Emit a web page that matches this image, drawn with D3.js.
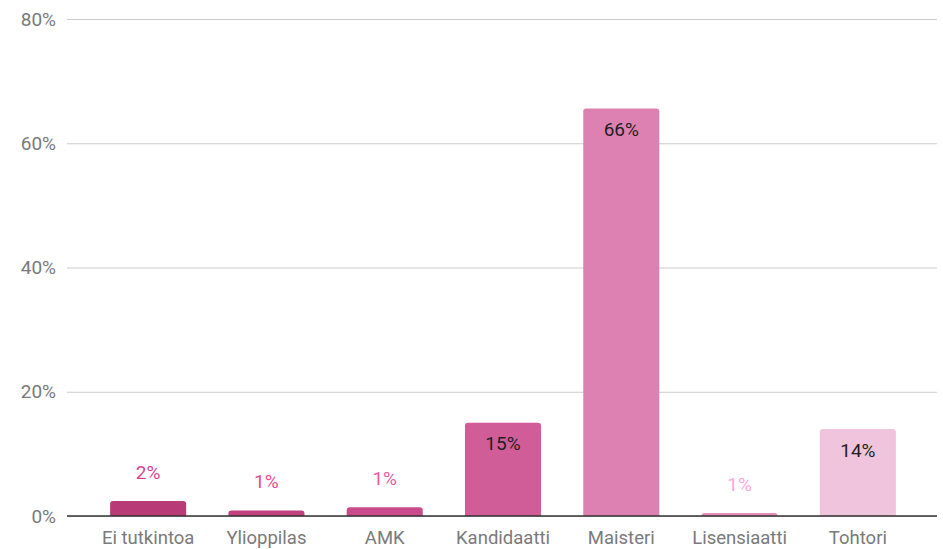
<!DOCTYPE html>
<html>
<head>
<meta charset="utf-8">
<script src="https://cdn.jsdelivr.net/npm/d3@7"></script>
<style>
body { margin: 0; background: #fff; }
text { font-family: Roboto, "Noto Sans", sans-serif; }
</style>
</head>
<body>
<svg id="chart" width="943" height="549"></svg>
<script>
// data
var categories = ["Ei tutkintoa", "Ylioppilas", "AMK", "Kandidaatti", "Maisteri", "Lisensiaatti", "Tohtori"];
var values = [2.4, 0.9, 1.4, 15.0, 65.6, 0.5, 14.0];
var yTicks = [0, 20, 40, 60, 80];

var barColors = ["#b83b78", "#c2417f", "#c94b8b", "#d05c98", "#dc81b1", "#e38dbb", "#efc4dc"];

var svg = d3.select("#chart");
var plotLeft = 67, plotRight = 937, plotTop = 19, plotBottom = 516;

var x = d3.scaleBand()
	.domain(categories)
	.range([89, 917])
	.paddingInner(0.357)
	.paddingOuter(0.357 / 2);

var y = d3.scaleLinear()
	.domain([0, 80])
	.range([plotBottom, plotTop]);

// grid
svg.append("g")
	.selectAll("line")
	.data(yTicks)
	.enter().append("line")
	.attr("x1", plotLeft)
	.attr("x2", plotRight)
	.attr("y1", function (d) { return y(d) + 0.5; })
	.attr("y2", function (d) { return y(d) + 0.5; })
	.attr("stroke", "#cccccc")
	.attr("stroke-width", 1);

// y axis labels
var yAxis = d3.axisLeft(y)
	.tickValues(yTicks)
	.tickSize(0)
	.tickPadding(0)
	.tickFormat(function (d) { return d + "%"; });
var gy = svg.append("g")
	.attr("transform", "translate(56,0)")
	.call(yAxis);
gy.select(".domain").remove();
gy.selectAll("text")
	.attr("fill", "#7a7a7a")
	.style("font-size", "19px");

// bars with rounded tops
function barPath(x0, w, y0, y1, r) {
	var h = y1 - y0;
	r = Math.min(r, h, w / 2);
	return "M" + x0 + "," + y1 +
		"V" + (y0 + r) +
		"Q" + x0 + "," + y0 + " " + (x0 + r) + "," + y0 +
		"H" + (x0 + w - r) +
		"Q" + (x0 + w) + "," + y0 + " " + (x0 + w) + "," + (y0 + r) +
		"V" + y1 + "Z";
}

svg.append("g")
	.selectAll("path")
	.data(values)
	.enter().append("path")
	.attr("d", function (d, i) {
		return barPath(x(categories[i]), x.bandwidth(), y(d), plotBottom, 3);
	})
	.attr("fill", function (d, i) { return barColors[i]; });

// baseline
svg.append("line")
	.attr("x1", plotLeft)
	.attr("x2", plotRight)
	.attr("y1", plotBottom)
	.attr("y2", plotBottom)
	.attr("stroke", "#333")
	.attr("stroke-width", 1.5);

// value labels
svg.append("g")
	.selectAll("text")
	.data(values)
	.enter().append("text")
	.attr("x", function (d, i) { return x(categories[i]) + x.bandwidth() / 2; })
	.attr("y", function (d) {
		return d > 5 ? y(d) + 21 : y(d) - 29;
	})
	.attr("dy", "0.35em")
	.attr("text-anchor", "middle")
	.style("font-size", "19px")
	.attr("fill", function (d, i) {
		if (d > 5) return "#1f1f1f";
		return d3.color(barColors[i]).brighter(0.45);
	})
	.text(function (d) { return Math.round(d) + "%"; });

// x axis labels
var xAxis = d3.axisBottom(x).tickSize(0).tickPadding(0);
var gx = svg.append("g")
	.attr("transform", "translate(0," + (plotBottom + 15) + ")")
	.call(xAxis);
gx.select(".domain").remove();
gx.selectAll("text")
	.attr("fill", "#7a7a7a")
	.style("font-size", "18.5px");
</script>
</body>
</html>
